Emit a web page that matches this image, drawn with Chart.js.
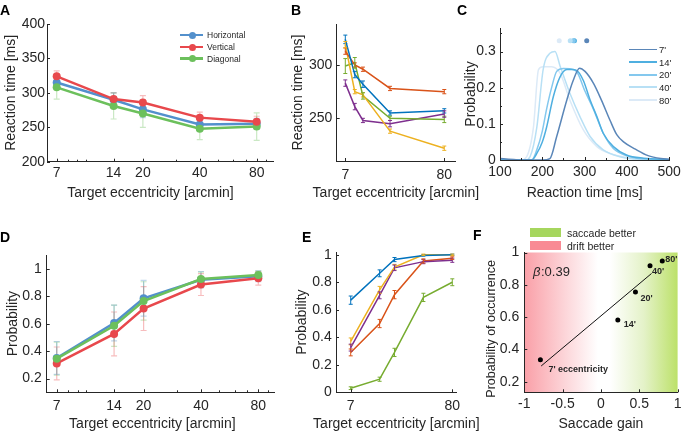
<!DOCTYPE html>
<html>
<head>
<meta charset="utf-8">
<script src="https://cdn.jsdelivr.net/npm/chart.js@4.4.1/dist/chart.umd.min.js"></script>
<style>
html,body{margin:0;padding:0;background:#fff}
body{width:685px;height:433px;position:relative;overflow:hidden;font-family:"Liberation Sans",Arial,sans-serif;color:#262626}
canvas{position:absolute}
</style>
</head>
<body>
<script>
// ---------------- DATA ----------------
const ecc = [7, 14, 20, 40, 80];                 // target eccentricity [arcmin]
const eccTicks = [7, 14, 20, 40, 80];
const eccMinor = [8, 9, 10, 30, 50, 60, 70, 90];
const seriesAD = ['Horizontal', 'Vertical', 'Diagonal'];

// Panel A: reaction time [ms]
const aHorizontal = [315, 290, 276, 254, 255];
const aVertical   = [324, 291, 286, 264, 258];
const aDiagonal   = [308, 281, 270, 248, 251];
const aHorizontalErr = [8, 10, 12, 9, 8];
const aVerticalErr   = [8, 9, 10, 8, 8];
const aDiagonalErr   = [17, 19, 20, 16, 20];
const aYTicks = [200, 250, 300, 350, 400];

// Panel B: reaction time [ms], individual observers
const bBlue   = [324, 291, 282, 255, 257];
const bOrange = [313, 300, 296, 278, 275];
const bYellow = [319, 275, 272, 238, 222];
const bGreen  = [299, 302, 271, 250, 249];
const bPurple = [283, 261, 248, 245, 254];
const bBlueErr   = [4, 3, 3, 2, 2];
const bOrangeErr = [3, 2, 2, 2, 2];
const bYellowErr = [3, 2, 2, 2, 2];
const bGreenErr  = [7, 5, 3, 2, 3];
const bPurpleErr = [3, 3, 2, 3, 3];
const bYTicks = [250, 300];
const bXTicks = [7, 80];

// Panel C: reaction time distributions
const cLabels = ["7'", "14'", "20'", "40'", "80'"];
const c7RT  = [100, 160, 200, 218, 234, 258, 273, 288, 301, 321, 340, 360, 376, 392, 420, 450, 480, 500];
const c7P   = [0.004, 0, 0, 0.004, 0.065, 0.166, 0.22, 0.254, 0.245, 0.212, 0.165, 0.11, 0.07, 0.05, 0.03, 0.012, 0.004, 0.002];
const c14RT = [100, 175, 187, 200, 210, 226, 242, 258, 270, 281, 297, 313, 329, 344, 368, 399, 440, 500];
const c14P  = [0, 0, 0.018, 0.05, 0.09, 0.175, 0.23, 0.25, 0.25, 0.248, 0.22, 0.166, 0.12, 0.074, 0.037, 0.014, 0.005, 0.001];
const c20RT = [100, 175, 187, 200, 210, 222, 234, 250, 265, 281, 301, 321, 344, 368, 407, 460, 500];
const c20P  = [0, 0, 0.028, 0.08, 0.14, 0.2, 0.245, 0.253, 0.252, 0.245, 0.19, 0.14, 0.074, 0.032, 0.009, 0.002, 0.001];
const c40RT = [100, 160, 171, 187, 202, 218, 230, 242, 265, 289, 313, 344, 384, 430, 500];
const c40P  = [0, 0, 0.009, 0.09, 0.25, 0.295, 0.3, 0.26, 0.185, 0.12, 0.065, 0.028, 0.009, 0.002, 0.001];
const c80RT = [100, 150, 163, 179, 191, 202, 222, 242, 265, 297, 329, 360, 400, 440, 500];
const c80P  = [0, 0, 0.009, 0.09, 0.25, 0.258, 0.258, 0.24, 0.166, 0.083, 0.037, 0.018, 0.007, 0.002, 0.001];
const cMeanRT = [305, 276, 273, 266, 240];
const cMeanLevel = 0.33;
const cXTicks = [100, 200, 300, 400, 500];
const cYTicks = [0, 0.1, 0.2, 0.3];

// Panel D: probability
const dHorizontal = [0.35, 0.605, 0.785, 0.92, 0.945];
const dVertical   = [0.31, 0.525, 0.71, 0.885, 0.93];
const dDiagonal   = [0.345, 0.585, 0.765, 0.925, 0.955];
const dHorizontalErr = [0.12, 0.13, 0.13, 0.06, 0.04];
const dVerticalErr   = [0.12, 0.16, 0.16, 0.08, 0.05];
const dDiagonalErr   = [0.12, 0.15, 0.14, 0.05, 0.03];
const dYTicks = [0.2, 0.4, 0.6, 0.8, 1];

// Panel E: probability, individual observers
const eBlue   = [0.67, 0.865, 0.965, 0.995, 1.0];
const eYellow = [0.37, 0.745, 0.91, 1.0, 1.0];
const ePurple = [0.325, 0.705, 0.905, 0.95, 0.96];
const eOrange = [0.29, 0.50, 0.71, 0.955, 0.975];
const eGreen  = [0.03, 0.095, 0.29, 0.69, 0.80];
const eBlueErr   = [0.03, 0.025, 0.015, 0.005, 0.005];
const eYellowErr = [0.025, 0.025, 0.02, 0.005, 0.005];
const ePurpleErr = [0.025, 0.025, 0.02, 0.015, 0.015];
const eOrangeErr = [0.025, 0.03, 0.03, 0.015, 0.01];
const eGreenErr  = [0.01, 0.015, 0.03, 0.03, 0.025];
const eYTicks = [0, 0.2, 0.4, 0.6, 0.8, 1];

// Panel F: probability of occurrence vs saccade gain
const fGain = [-0.79, 0.22, 0.45, 0.64, 0.80];
const fProb = [0.335, 0.582, 0.755, 0.918, 0.947];
const fFitX = [-0.78, 0.66];
const fFitY = [0.297, 0.87];
const fPointLabels = ["7' eccentricity", "14'", "20'", "40'", "80'"];
const fBeta = '0.39';
const fXTicks = [-1, -0.5, 0, 0.5, 1];
const fYTicks = [0.2, 0.4, 0.6, 0.8, 1];
const fLegend = ['saccade better', 'drift better'];

// ---------------- STYLE ----------------
const TXT = '#262626';
const FF = '"Liberation Sans", Arial, Helvetica, sans-serif';
Chart.defaults.font.family = FF;
Chart.defaults.color = TXT;
const colAD = {Horizontal: '#5390cc', Vertical: '#e8484c', Diagonal: '#6cc05c'};
const ML = {blue: '#0072BD', orange: '#D95319', yellow: '#EDB120', purple: '#7E2F8E', green: '#77AC30'};
const cColors = ['#5a86b8', '#4fafe0', '#84c8ee', '#b8e0f5', '#dceaf7'];

const pts = (xs, ys) => xs.map((x, i) => ({x: x, y: ys[i]}));

// ---------------- PLUGINS ----------------
const inTicks = {
  id: 'inTicks',
  afterDraw(chart, args, o) {
    const {ctx, chartArea: a, scales} = chart;
    ctx.save(); ctx.strokeStyle = TXT; ctx.lineWidth = 1;
    const draw = (vals, len, isX) => {
      (vals || []).forEach(v => {
        ctx.beginPath();
        if (isX) {
          const p = Math.round(scales.x.getPixelForValue(v)) + 0.5;
          ctx.moveTo(p, a.bottom); ctx.lineTo(p, a.bottom - len);
        } else {
          const p = Math.round(scales.y.getPixelForValue(v)) + 0.5;
          ctx.moveTo(a.left, p); ctx.lineTo(a.left + len, p);
        }
        ctx.stroke();
      });
    };
    draw(o.x, 3, true); draw(o.xm, 2, true); draw(o.y, 3, false); draw(o.ym, 2, false);
    ctx.restore();
  }
};
// axis titles drawn free of the axis width limit / with a small offset from the plot centre
const freeTitle = {
  id: 'freeTitle',
  afterDraw(chart, args, o) {
    const {ctx, chartArea: a} = chart;
    ctx.save();
    ctx.fillStyle = TXT; ctx.textAlign = 'center'; ctx.textBaseline = 'middle';
    if (o.x) {
      ctx.font = (o.x.size || 14) + 'px ' + FF;
      ctx.fillText(o.x.text, (a.left + a.right) / 2 + (o.x.dx || 0), chart.height - o.x.off);
    }
    if (o.y) {
      ctx.font = (o.y.size || 14) + 'px ' + FF;
      ctx.translate(o.y.off, (a.top + a.bottom) / 2 + (o.y.dy || 0));
      ctx.rotate(-Math.PI / 2);
      ctx.fillText(o.y.text, 0, 0);
    }
    ctx.restore();
  }
};
function drawErr(chart, o) {
  const ctx = chart.ctx, ys = chart.scales.y;
  chart.data.datasets.forEach((ds, i) => {
    if (!ds.errs) return;
    const meta = chart.getDatasetMeta(i);
    ctx.save();
    ctx.strokeStyle = ds.errColor || ds.borderColor;
    ctx.lineWidth = o.width || 1;
    meta.data.forEach((pt, j) => {
      const val = ds.data[j].y, e = ds.errs[j];
      const y1 = ys.getPixelForValue(val - e), y2 = ys.getPixelForValue(val + e);
      const x = pt.x, c = o.cap || 3;
      ctx.beginPath();
      ctx.moveTo(x, y1); ctx.lineTo(x, y2);
      ctx.moveTo(x - c, y1); ctx.lineTo(x + c, y1);
      ctx.moveTo(x - c, y2); ctx.lineTo(x + c, y2);
      ctx.stroke();
    });
    ctx.restore();
  });
}
const errBars = {
  id: 'errBars',
  beforeDatasetsDraw(chart, args, o) { if (o.on && !o.front) drawErr(chart, o); },
  afterDatasetsDraw(chart, args, o) { if (o.on && o.front) drawErr(chart, o); }
};
const bgGrad = {
  id: 'bgGrad',
  beforeDraw(chart, args, o) {
    if (!o.stops) return;
    const {ctx, chartArea: a} = chart;
    const g = ctx.createLinearGradient(a.left, 0, a.right, 0);
    o.stops.forEach(s => g.addColorStop(s[0], s[1]));
    ctx.save(); ctx.fillStyle = g;
    ctx.fillRect(a.left, a.top, a.right - a.left, a.bottom - a.top);
    ctx.restore();
  }
};
const ptLabels = {
  id: 'ptLabels',
  afterDatasetsDraw(chart, args, o) {
    if (!o.labels) return;
    const ctx = chart.ctx;
    const meta = chart.getDatasetMeta(o.ds);
    ctx.save();
    ctx.fillStyle = TXT; ctx.textBaseline = 'middle'; ctx.textAlign = 'left';
    ctx.font = 'bold 9px ' + FF;
    o.labels.forEach((t, j) => {
      const p = meta.data[j];
      ctx.fillText(t, p.x + o.dx[j], p.y + o.dy[j]);
    });
    if (o.beta) {
      const x = chart.scales.x.getPixelForValue(o.beta.x);
      const y = chart.scales.y.getPixelForValue(o.beta.y);
      ctx.font = 'italic 13px ' + FF;
      ctx.fillText('\u03B2', x, y);
      const w = ctx.measureText('\u03B2').width;
      ctx.font = '13px ' + FF;
      ctx.fillText(':' + o.beta.text, x + w + 0.5, y);
    }
    ctx.restore();
  }
};
Chart.register(inTicks, freeTitle, errBars, bgGrad, ptLabels);

// ---------------- HELPERS ----------------
function axis(o) {
  return {
    type: o.type || 'linear', min: o.min, max: o.max,
    grid: {display: true, drawOnChartArea: false, drawTicks: false},
    border: {display: true, color: TXT, width: 1},
    ticks: {color: TXT, font: {size: o.fs || 14}, padding: o.pad, autoSkip: false,
            maxRotation: 0, minRotation: 0, callback: v => String(v)},
    title: {display: !!o.title, text: o.title || '', color: TXT, font: {size: o.tfs || 14},
            padding: o.isX ? {top: 0, bottom: o.tpad} : {top: o.tpad, bottom: 0}},
    afterBuildTicks: s => { s.ticks = o.ticks.map(v => ({value: v})); },
    afterFit: o.fit
  };
}
function panel(box, area, datasets, xo, yo, plugins) {
  const c = document.createElement('canvas');
  c.width = box.w; c.height = box.h;
  c.style.left = box.l + 'px'; c.style.top = box.t + 'px';
  c.style.width = box.w + 'px'; c.style.height = box.h + 'px';
  document.body.appendChild(c);
  xo.isX = true;
  xo.fit = s => { s.height = box.t + box.h - area.y1; };
  yo.fit = s => { s.width = area.x0 - box.l; };
  return new Chart(c, {
    type: 'line',
    data: {datasets: datasets},
    options: {
      responsive: false, animation: false, devicePixelRatio: 1,
      layout: {padding: {left: 0, top: area.y0 - box.t, right: box.l + box.w - area.x1, bottom: 0}},
      plugins: Object.assign({legend: {display: false}, tooltip: {enabled: false}}, plugins),
      scales: {x: axis(xo), y: axis(yo)},
      elements: {line: {tension: 0}}
    }
  });
}
function div(style, text) {
  const d = document.createElement('div');
  d.style.cssText = 'position:absolute;' + style;
  if (text != null) d.textContent = text;
  document.body.appendChild(d);
  return d;
}
const dsAD = (name, ys, err) => ({
  label: name, data: pts(ecc, ys), errs: err, errColor: colAD[name] + '5c',
  borderColor: colAD[name], backgroundColor: colAD[name], borderWidth: 2.5,
  pointRadius: 4, pointBorderWidth: 0, pointBackgroundColor: colAD[name]
});
const dsBE = (ys, err, col) => ({
  data: pts(ecc, ys), errs: err, borderColor: col, backgroundColor: col,
  borderWidth: 1.5, pointRadius: 0
});
const eccTitle = 'Target eccentricity [arcmin]';

// ---------------- PANEL A ----------------
panel({l: 0, t: 10, w: 285, h: 198}, {x0: 47, x1: 273, y0: 24, y1: 161.7},
  [dsAD('Vertical', aVertical, aVerticalErr), dsAD('Diagonal', aDiagonal, aDiagonalErr), dsAD('Horizontal', aHorizontal, aHorizontalErr)],
  {type: 'logarithmic', min: 6.22, max: 97.6, ticks: eccTicks, pad: 3},
  {min: 200, max: 400, ticks: aYTicks, pad: 2, title: 'Reaction time [ms]', tpad: 2.6},
  {errBars: {on: true, width: 1.2, cap: 3}, inTicks: {x: eccTicks, xm: eccMinor, y: aYTicks},
   freeTitle: {x: {text: eccTitle, off: 15, dx: -9.5}}});

// ---------------- PANEL B ----------------
panel({l: 285, t: 10, w: 195, h: 198}, {x0: 336.7, x1: 455, y0: 24, y1: 161},
  [dsBE(bBlue, bBlueErr, ML.blue), dsBE(bOrange, bOrangeErr, ML.orange), dsBE(bYellow, bYellowErr, ML.yellow),
   dsBE(bGreen, bGreenErr, ML.green), dsBE(bPurple, bPurpleErr, ML.purple)],
  {min: 0.66, max: 87.9, ticks: bXTicks, pad: 5.9},
  {min: 210, max: 338.4, ticks: bYTicks, pad: 4.4, title: 'Reaction time [ms]', tpad: 5.1},
  {errBars: {on: true, front: true, width: 1, cap: 2}, inTicks: {x: bXTicks, y: bYTicks},
   freeTitle: {x: {text: eccTitle, off: 15}}});

// ---------------- PANEL C ----------------
const cCurves = [[c7RT, c7P], [c14RT, c14P], [c20RT, c20P], [c40RT, c40P], [c80RT, c80P]];
const cDatasets = cCurves.map((cv, i) => ({
  label: cLabels[i], data: pts(cv[0], cv[1]), borderColor: cColors[i], borderWidth: 1.5,
  pointRadius: 0, cubicInterpolationMode: 'monotone'
}));
cDatasets.push({
  type: 'scatter', data: cMeanRT.map(x => ({x: x, y: cMeanLevel})),
  pointRadius: 2.5, pointBorderWidth: 0, pointBackgroundColor: cColors, showLine: false
});
panel({l: 460, t: 10, w: 225, h: 198}, {x0: 500, x1: 669.3, y0: 28, y1: 160},
  cDatasets,
  {min: 100, max: 500, ticks: cXTicks, pad: 4.1, title: 'Reaction time [ms]', tpad: 6.6},
  {min: 0, max: 0.365, ticks: cYTicks, pad: 4.3, title: 'Probability', tpad: 2.6},
  {inTicks: {x: cXTicks, xm: [150, 250, 350, 450], y: cYTicks, ym: [0.05, 0.15, 0.25, 0.35]}});

// ---------------- PANEL D ----------------
panel({l: 0, t: 238, w: 285, h: 195}, {x0: 46.7, x1: 274, y0: 255, y1: 392.3},
  [dsAD('Diagonal', dDiagonal, dDiagonalErr), dsAD('Vertical', dVertical, dVerticalErr), dsAD('Horizontal', dHorizontal, dHorizontalErr)],
  {type: 'logarithmic', min: 6.2, max: 96.7, ticks: eccTicks, pad: 5.1},
  {min: 0.1, max: 1.1, ticks: dYTicks, pad: 5, title: 'Probability', tpad: 4.6},
  {errBars: {on: true, width: 1.2, cap: 3}, inTicks: {x: eccTicks, xm: eccMinor, y: dYTicks},
   freeTitle: {x: {text: eccTitle, off: 9, dx: -8}}});

// ---------------- PANEL E ----------------
panel({l: 285, t: 238, w: 195, h: 195}, {x0: 336, x1: 456.7, y0: 252, y1: 392.3},
  [dsBE(eBlue, eBlueErr, ML.blue), dsBE(eYellow, eYellowErr, ML.yellow), dsBE(ePurple, ePurpleErr, ML.purple),
   dsBE(eOrange, eOrangeErr, ML.orange), dsBE(eGreen, eGreenErr, ML.green)],
  {type: 'logarithmic', min: 4.92, max: 88.9, ticks: bXTicks, pad: 5.6},
  {min: 0, max: 1.02, ticks: eYTicks, pad: 4.3, title: 'Probability', tpad: 8.6},
  {errBars: {on: true, front: true, width: 1, cap: 2}, inTicks: {x: bXTicks, y: eYTicks},
   freeTitle: {x: {text: eccTitle, off: 9}}});

// ---------------- PANEL F ----------------
panel({l: 470, t: 238, w: 215, h: 195}, {x0: 524.3, x1: 681.7, y0: 252.5, y1: 392.3},
  [{type: 'scatter', data: pts(fGain, fProb), pointRadius: 2.5, pointBorderWidth: 0,
    pointBackgroundColor: '#000', showLine: false},
   {data: pts(fFitX, fFitY), borderColor: '#111', borderWidth: 1, pointRadius: 0}],
  {min: -1, max: 1, ticks: fXTicks, pad: 3.5, title: 'Saccade gain', tpad: 0.6},
  {min: 0.134, max: 1.0, ticks: fYTicks, pad: 5},
  {bgGrad: {stops: [[0, 'rgb(250,160,168)'], [0.25, 'rgb(252,210,214)'], [0.48, 'rgb(255,255,255)'], [0.56, 'rgb(255,255,255)'], [0.78, 'rgb(228,242,200)'], [1, 'rgb(188,225,105)']]},
   ptLabels: {ds: 0, labels: fPointLabels, dx: [8, 6, 5, 2, 3], dy: [10, 5, 6, 6, -2],
              beta: {x: -0.886, y: 0.874, text: fBeta}},
   inTicks: {x: fXTicks, y: fYTicks},
   freeTitle: {y: {text: 'Probability of occurrence', off: 22, dy: 6.5, size: 12.5}}});

// ---------------- LETTERS & LEGENDS ----------------
const LF = 'font-family:' + FF.replace(/"/g, "'") + ';';
[['A', 0, 3], ['B', 291, 3], ['C', 457, 3], ['D', 0, 230], ['E', 302, 230], ['F', 473, 228]].forEach(l =>
  div(LF + 'left:' + l[1] + 'px;top:' + l[2] + 'px;font-size:14px;line-height:14px;font-weight:bold;color:#000', l[0]));

// A legend
const aLegRows = [35, 47, 58.5];
seriesAD.forEach((name, i) => {
  const y = aLegRows[i], col = colAD[name];
  div('left:180px;top:' + (y - 1.25) + 'px;width:23px;height:2.5px;background:' + col);
  div('left:' + (192 - 3.5) + 'px;top:' + (y - 3.5) + 'px;width:7px;height:7px;border-radius:50%;background:' + col);
  div(LF + 'left:207px;top:' + (y - 5) + 'px;font-size:8.5px;line-height:10px;color:' + TXT + ';white-space:nowrap', name);
});

// C legend
const cLegRows = [49.3, 62, 74.7, 87.3, 100];
const cLegW = [1.5, 2.5, 2, 2, 2];
cLabels.forEach((lab, i) => {
  const y = cLegRows[i];
  div('left:629px;top:' + (y - cLegW[i] / 2) + 'px;width:28px;height:' + cLegW[i] + 'px;background:' + cColors[i]);
  div(LF + 'left:659px;top:' + (y - 5.5) + 'px;font-size:9.5px;line-height:11px;color:' + TXT + ';white-space:nowrap', lab);
});

// F legend
const fLegCols = ['#a6d65e', '#f98a94'];
const fLegRows = [232.5, 245.5];
fLegend.forEach((t, i) => {
  const y = fLegRows[i];
  div('left:530px;top:' + (y - 4.2) + 'px;width:31px;height:8.4px;background:' + fLegCols[i]);
  div(LF + 'left:567px;top:' + (y - 6) + 'px;font-size:10.5px;line-height:12px;color:' + TXT + ';white-space:nowrap', t);
});
</script>
</body>
</html>
